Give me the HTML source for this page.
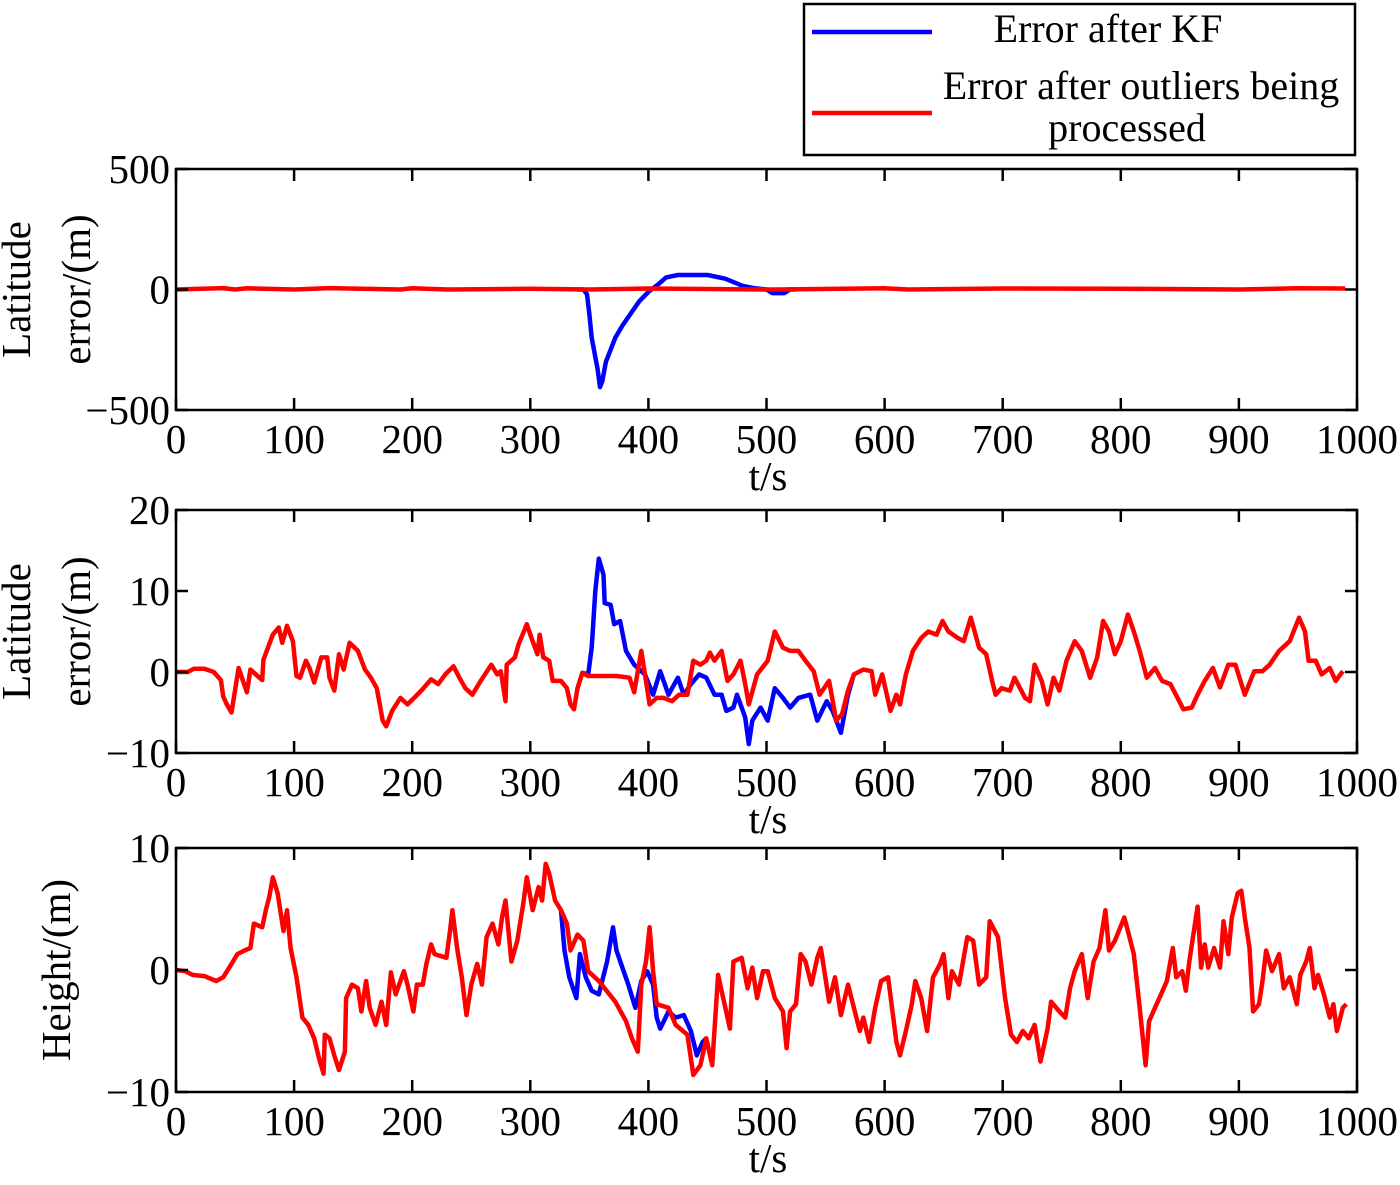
<!DOCTYPE html>
<html><head><meta charset="utf-8"><style>
html,body{margin:0;padding:0;background:#fff;}
svg{display:block;font-family:"Liberation Serif",serif;}
</style></head><body>
<svg id="chart" width="1400" height="1185" viewBox="0 0 1400 1185" xmlns="http://www.w3.org/2000/svg">
<g>
<rect x="804" y="4" width="551" height="151" fill="#fff" stroke="#000" stroke-width="2.5"/>
<line x1="812" y1="32" x2="932" y2="32" stroke="#0000ff" stroke-width="4.5"/>
<text x="1108" y="42" font-size="40" text-anchor="middle">Error after KF</text>
<line x1="812" y1="113" x2="932" y2="113" stroke="#ff0000" stroke-width="4.5"/>
<text x="1141" y="99" font-size="40" text-anchor="middle">Error after outliers being</text>
<text x="1127" y="141" font-size="40" text-anchor="middle">processed</text>
</g>
</svg>
<script>
// Panel 1 (latitude, large scale)
const p1RedT=[0,40,50,60,100,130,190,200,230,300,350,400,500,510,600,620,700,800,900,950,990];
const p1RedV=[0,6,0,5,0,6,0,5,0,3,0,4,0,0,5,0,4,3,0,5,4];
const p1BlueT=[340,345,348,350,352,355,357,359,361,364,368,372,378,385,392,400,408,415,425,450,465,480,490,500,505,515,520,525];
const p1BlueV=[0,0,-20,-100,-200,-280,-330,-405,-380,-300,-250,-200,-150,-100,-50,-10,20,50,60,60,45,15,5,0,-15,-15,0,0];
// Panel 2 (latitude, small scale)
const p2RedT=[0,5,10,15,20,24,32,38,40,43,47,53,60,63,73,74,82,87,90,94,99,102,105,110,113,117,123,128,130,134,138,142,147,154,160,165,170,175,178,183,190,196,203,209,216,222,228,235,240,245,251,258,267,272,275,279,280,287,290,297,301,306,308,311,316,319,326,331,334,337,340,344,349,373,384,388,394,401,407,413,420,426,433,438,444,449,452,456,462,467,472,478,482,485,492,501,507,514,520,527,533,540,545,553,559,564,569,574,582,589,592,598,605,610,613,618,624,631,637,644,649,654,662,667,673,680,686,691,694,699,706,710,719,723,727,733,738,743,748,754,761,767,774,780,785,790,795,800,806,811,816,822,829,835,842,848,853,860,865,871,878,884,891,897,905,913,920,926,934,943,951,956,959,965,970,977,982,988];
const p2RedV=[0,0,0,0.4,0.4,0.4,0,-1,-3,-4,-5,0.5,-2.5,0.3,-1,1.5,4.6,5.5,3.6,5.7,3.8,-0.5,-0.7,1.4,0.5,-1.3,1.8,1.8,-0.7,-2.3,2.2,0.3,3.6,2.6,0.3,-0.7,-2,-6,-6.7,-4.8,-3.2,-4,-3,-2.1,-0.9,-1.5,-0.3,0.7,-0.7,-2,-2.8,-1.1,0.9,-0.3,0.1,-3.6,0.9,1.8,3.4,5.9,4.2,2.2,4.6,1.8,1.4,-1.1,-1.1,-2,-4,-4.6,-2,-0.1,-0.5,-0.5,-0.7,-2.5,2.6,-4,-3.2,-3.2,-3.6,-2.8,-2.8,1.4,0.9,1.4,2.4,1.4,2.6,-1.1,-0.3,1.4,-1.5,-4,-0.3,1.4,5,3,2.6,2.6,1.4,0.1,-2.8,-1.1,-6,-5.2,-2.3,-0.3,0.3,0.1,-2.8,-0.3,-4.8,-2.8,-4,-0.3,2.6,4.2,5,4.6,6.3,5,4.2,3.8,6.7,3,2.2,-1.1,-2.8,-2,-2.3,-0.7,-3.2,-3.6,0.9,-1.1,-4,-0.7,-2.3,1.4,3.8,2.6,-0.7,1.8,6.3,5,2.2,3.8,7.1,5,2.6,-0.7,0.5,-1.1,-1.5,-3.2,-4.6,-4.4,-2.8,-1.1,0.5,-1.9,0.9,0.9,-2.8,0.1,0.1,0.9,2.6,3.8,6.7,5,1.4,1.4,-0.3,0.5,-1.1,0.1];
const p2BlueT=[344,349,352,355,358,362,363,368,371,376,381,388,397,404,410,417,425,430,436,443,449,456,462,466,472,475,482,485,488,495,501,507,514,520,527,537,543,551,556,563,569,574];
const p2BlueV=[-0.1,-0.3,3,10,14,12,8.5,8.3,5.9,6.3,2.6,0.9,-0.3,-2.8,0.1,-2.8,-0.7,-2.8,-1.5,-0.3,-0.7,-2.8,-2.8,-4.8,-4.4,-2.8,-5.6,-8.9,-6,-4.4,-6,-2,-3.2,-4.4,-3.2,-2.8,-6,-3.6,-4.8,-7.5,-2.8,-0.3];
// Panel 3 (height)
const p3RedT=[0,8,14,24,34,40,47,52,58,63,66,73,76,79,82,86,91,94,97,102,107,112,117,121,125,126,130,134,138,143,144,149,154,157,161,164,169,174,178,182,186,193,196,201,204,209,212,216,219,229,232,234,238,242,246,250,255,259,263,268,273,276,279,284,289,294,297,302,307,310,313,316,321,326,331,334,340,345,349,358,372,381,386,391,394,398,401,404,407,417,423,433,438,444,449,454,459,464,469,472,479,484,488,492,497,501,507,514,517,520,525,529,533,538,543,546,553,558,563,569,574,579,582,587,592,597,603,610,613,618,623,626,631,636,641,647,650,654,657,663,670,675,680,686,689,696,702,707,712,717,722,727,732,738,741,748,753,757,761,767,772,777,782,787,790,795,803,806,811,816,821,824,829,834,839,844,847,852,855,858,865,868,871,874,879,884,887,891,894,899,902,905,909,912,917,920,923,928,934,938,943,949,952,957,960,964,967,972,977,980,983,988,991];
const p3RedV=[0,-0.1,-0.4,-0.5,-0.9,-0.6,0.5,1.3,1.6,1.8,3.8,3.5,4.9,6,7.6,6.3,3.2,4.9,1.8,-0.6,-3.9,-4.5,-5.6,-7.2,-8.5,-5.3,-5.6,-7,-8.2,-6.7,-2.3,-1.2,-1.5,-3.4,-0.9,-3.1,-4.5,-2.6,-4.5,-0.2,-2,-0.1,-1.2,-3.4,-1.2,-1.2,0.5,2.1,1.3,1,3.2,4.9,1.8,-0.6,-3.7,-1.2,0.5,-1.2,2.7,3.8,2.1,4.3,5.7,0.7,2.4,5.4,7.6,4.9,6.8,5.7,8.7,7.9,5.7,4.9,3.8,1.6,2.9,2.4,-0.1,-0.9,-2.6,-4.2,-5.6,-6.7,-1.2,0.7,3.5,-0.1,-2.8,-3.1,-4.5,-5.3,-8.6,-7.8,-5.6,-7.8,-0.4,-2.6,-4.8,0.7,1,-1.5,0.2,-2.3,-0.1,-0.1,-2.3,-3.4,-6.4,-3.4,-2.8,1.3,0.7,-1.2,1,1.8,-2.6,-0.6,-3.7,-1.2,-3.1,-5,-3.9,-5.9,-3.1,-0.9,-0.6,-5.9,-7,-5,-2.8,-0.9,-2.3,-5,-0.6,0.5,1.3,-2.3,-0.1,-1.2,2.7,2.4,-1.2,-0.6,4,2.7,-2.3,-5.3,-5.9,-5,-5.6,-4.5,-7.5,-4.8,-2.6,-3.4,-3.9,-1.5,-0.1,1.3,-2.3,0.7,1.8,4.9,1.6,2.4,4.3,3.2,1.3,-3.1,-7.8,-4.2,-3.1,-2,-0.9,1.8,-0.6,-0.1,-1.7,0.7,5.2,0.2,2.1,0.2,1.8,0.2,4,1.3,4.3,6.3,6.5,4.3,1.8,-3.4,-2.8,-0.9,1.6,-0.1,1.3,-1.5,-0.6,-2.8,-0.4,0.7,1.8,-1.5,-0.4,-2,-3.9,-2.8,-5,-3.1,-2.8];
const p3BlueT=[326,329,333,339,342,347,352,358,365,370,373,378,383,389,394,399,404,407,410,417,423,430,436,441,446,449];
const p3BlueV=[4.9,1.6,-0.6,-2.3,1.3,-0.6,-1.7,-2,0.7,3.5,1.6,0.2,-1.2,-3.1,-0.9,-0.1,-1.2,-3.9,-4.8,-3.4,-3.9,-3.7,-5,-7,-5.9,-5.6];
const xTicks=[0,100,200,300,400,500,600,700,800,900,1000];
const p1YTicks=[-500,0,500];
const p2YTicks=[-10,0,10,20];
const p3YTicks=[-10,0,10];

const NS='http://www.w3.org/2000/svg';
const svg=document.getElementById('chart');
function mk(tag,attrs,parent){const e=document.createElementNS(NS,tag);for(const k in attrs)e.setAttribute(k,attrs[k]);(parent||svg).appendChild(e);return e;}
const L=176,R=1357;
function xs(t){return L+(t/1000)*(R-L);}
function panel(top,bot,ymin,ymax,yticks,ylabels,series,name,ylabX){
  const g=mk('g',{});
  
  
  const ys=v=>bot-(v-ymin)/(ymax-ymin)*(bot-top);
  const cp='clip-'+name;
  const defs=mk('defs',{},g);const c=mk('clipPath',{id:cp},defs);mk('rect',{x:L,y:top,width:R-L,height:bot-top},c);
  series.forEach(s=>{
    const d=s.t.map((t,i)=>(i?'L':'M')+xs(t).toFixed(1)+','+ys(s.v[i]).toFixed(1)).join('');
    const p=mk('path',{d:d,fill:'none',stroke:s.c,'stroke-width':4.5,'stroke-linejoin':'round','clip-path':'url(#'+cp+')'},g);
    
    
  });
  const f=mk('rect',{x:L,y:top,width:R-L,height:bot-top,fill:'none',stroke:'#000','stroke-width':2.5},g);
  
  
  xTicks.forEach(t=>{
    const x=xs(t);
    mk('line',{x1:x,y1:bot,x2:x,y2:bot-12,stroke:'#000','stroke-width':2.5},g);
    mk('line',{x1:x,y1:top,x2:x,y2:top+12,stroke:'#000','stroke-width':2.5},g);
    const tx=mk('text',{x:x,y:bot+43,'font-size':41,'text-anchor':'middle'},g);
    tx.textContent=String(t);
    
    
  });
  yticks.forEach(v=>{
    const y=ys(v);
    mk('line',{x1:L,y1:y,x2:L+12,y2:y,stroke:'#000','stroke-width':2.5},g);
    mk('line',{x1:R,y1:y,x2:R-12,y2:y,stroke:'#000','stroke-width':2.5},g);
    const tx=mk('text',{x:L-6,y:y+14,'font-size':41,'text-anchor':'end'},g);
    tx.textContent=v<0?'\u2212'+Math.abs(v):String(v);
    
    
  });
  const xl=mk('text',{x:768,y:bot+80,'font-size':41,'text-anchor':'middle'},g);
  xl.textContent='t/s';
  
  
  const cy=(top+bot)/2;
  ylabels.forEach((s,i)=>{
    const x=ylabX[i];
    const tx=mk('text',{x:x,y:cy,'font-size':41,'text-anchor':'middle',transform:'rotate(-90 '+x+' '+cy+')'},g);
    tx.textContent=s;
    
    
  });
}
panel(169,410,-500,500,p1YTicks,['Latitude','error/(m)'],[
  {t:p1BlueT,v:p1BlueV,c:'#0000ff',n:'series-kf'},
  {t:p1RedT,v:p1RedV,c:'#ff0000',n:'series-processed'}],'panel-latitude-1',[30,90]);
panel(510,753,-10,20,p2YTicks,['Latitude','error/(m)'],[
  {t:p2BlueT,v:p2BlueV,c:'#0000ff',n:'series-kf'},
  {t:p2RedT,v:p2RedV,c:'#ff0000',n:'series-processed'}],'panel-latitude-2',[30,90]);
panel(848,1092,-10,10,p3YTicks,['Height/(m)'],[
  {t:p3BlueT,v:p3BlueV,c:'#0000ff',n:'series-kf'},
  {t:p3RedT,v:p3RedV,c:'#ff0000',n:'series-processed'}],'panel-height',[70]);
</script>
</body></html>
